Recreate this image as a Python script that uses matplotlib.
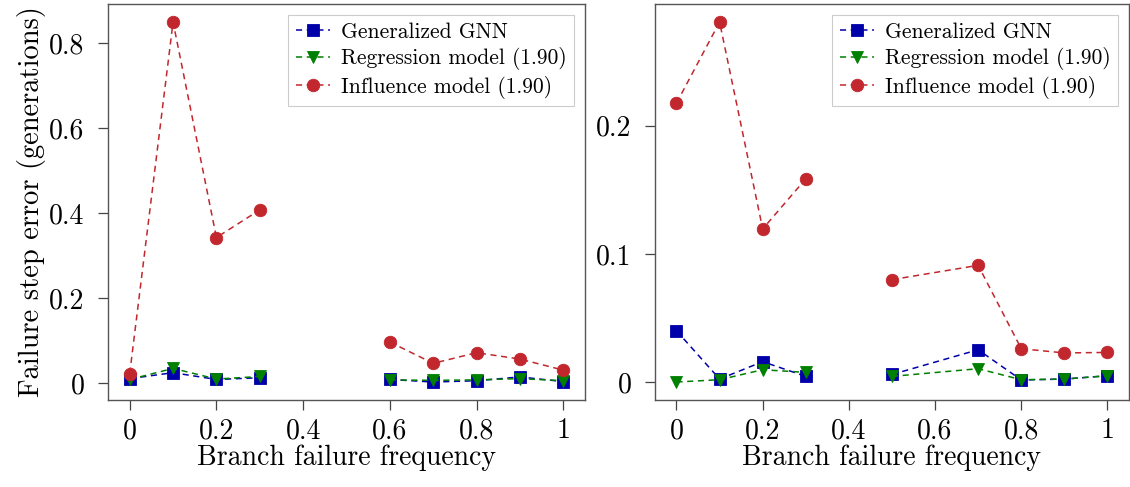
import numpy as np
import matplotlib
matplotlib.use("Agg")
import matplotlib.pyplot as plt
from matplotlib.ticker import FuncFormatter

plt.rcParams['font.family'] = 'cmr10'
plt.rcParams['mathtext.fontset'] = 'cm'
plt.rcParams['axes.formatter.use_mathtext'] = True

# left panel
freq_left = [0.0, 0.1, 0.2, 0.3, 0.4, 0.6, 0.7, 0.8, 0.9, 1.0]
gnn_left = [0.010, 0.024, 0.008, 0.012, np.nan, 0.008, 0.002, 0.005, 0.014, 0.003]
reg_left = [0.008, 0.034, 0.009, 0.015, np.nan, 0.007, 0.006, 0.007, 0.010, 0.005]
inf_left = [0.022, 0.849, 0.342, 0.407, np.nan, 0.096, 0.046, 0.071, 0.056, 0.030]

# right panel
freq_right = [0.0, 0.1, 0.2, 0.3, 0.4, 0.5, 0.7, 0.8, 0.9, 1.0]
gnn_right = [0.040, 0.0023, 0.0159, 0.0044, np.nan, 0.0059, 0.0252, 0.0016, 0.0023, 0.0049]
reg_right = [0.0, 0.0018, 0.0096, 0.0075, np.nan, 0.0044, 0.0104, 0.0018, 0.0023, 0.0049]
inf_right = [0.2177, 0.281, 0.1195, 0.1586, np.nan, 0.0799, 0.0911, 0.026, 0.0227, 0.0231]

labels = ['Generalized GNN', 'Regression model (1.90)', 'Influence model (1.90)']
colors = ['#0000AA', '#008000', '#C1272D']
markers = ['s', 'v', 'o']

fig = plt.figure(figsize=(11.3, 4.87), dpi=100)
ax1 = fig.add_axes([0.0956, 0.1786, 0.4221, 0.8131])
ax2 = fig.add_axes([0.5796, 0.1786, 0.4195, 0.8131])


def draw(ax, x, series, yticks):
    for ys, lab, c, m in zip(series, labels, colors, markers):
        ax.plot(x, ys, linestyle='--', dashes=(4, 3), linewidth=1.1, color=c,
                marker=m, markersize=9, markeredgewidth=0.6,
                markeredgecolor=c, label=lab)
    ax.set_xticks([0, 0.2, 0.4, 0.6, 0.8, 1.0])
    ax.set_yticks(yticks)
    fmt = FuncFormatter(lambda v, p: '%g' % round(v, 3))
    ax.xaxis.set_major_formatter(fmt)
    ax.yaxis.set_major_formatter(fmt)
    ax.tick_params(direction='out', length=7, width=0.9, color='#444444',
                   labelsize=20)
    ax.tick_params(axis='x', pad=6)
    ax.tick_params(axis='y', pad=10)
    for s in ax.spines.values():
        s.set_color('#555555')
        s.set_linewidth(1.0)
    ax.set_xlabel('Branch failure frequency', fontsize=20, labelpad=0)
    leg = ax.legend(loc='upper right', fontsize=15.5, fancybox=False,
                    edgecolor='#cccccc', framealpha=1, borderaxespad=0.5,
                    handletextpad=0.5, borderpad=0.35, labelspacing=0.25,
                    handlelength=1.6)
    leg.get_frame().set_linewidth(0.8)


draw(ax1, freq_left, [gnn_left, reg_left, inf_left], [0, 0.2, 0.4, 0.6, 0.8])
draw(ax2, freq_right, [gnn_right, reg_right, inf_right], [0, 0.1, 0.2])
ax1.set_ylabel('Failure step error (generations)', fontsize=20.5, labelpad=2)

fig.savefig('out.png', dpi=100)
